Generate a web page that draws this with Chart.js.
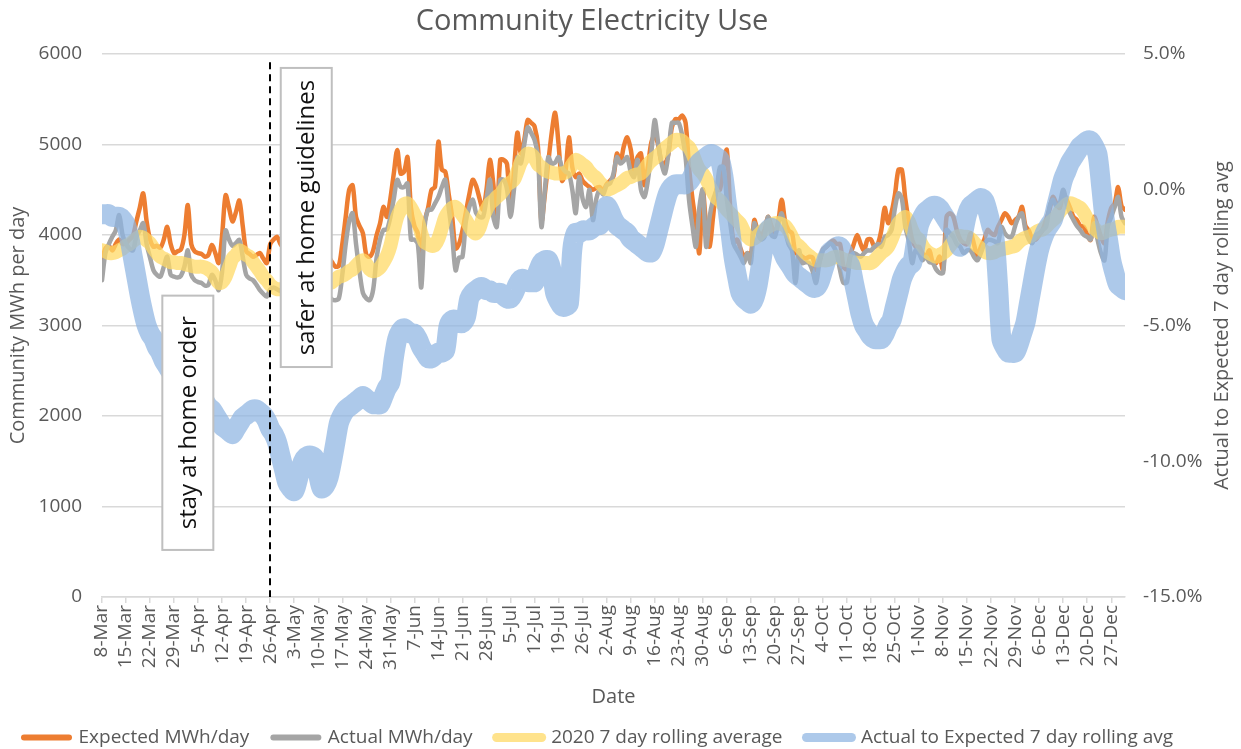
<!DOCTYPE html>
<html>
<head>
<meta charset="utf-8">
<title>Community Electricity Use</title>
<script src="https://cdn.jsdelivr.net/npm/chart.js@4.4.1/dist/chart.umd.min.js"></script>
<style>
  html, body { margin: 0; padding: 0; background: #fff; }
</style>
</head>
<body>
<canvas id="usage" width="1241" height="749"></canvas>
<script>
// Daily values, 8-Mar to 31-Dec (one value per day)

let expectedMWh = [
  3720, 3850, 3880, 3830, 3900, 3950, 3900,
  3910, 3950, 3990, 4150, 4300, 4460, 4150,
  3950, 3870, 3880, 3860, 3950, 4090, 3900,
  3800, 3820, 3840, 4000, 4330, 3900, 3820,
  3800, 3790, 3760, 3780, 3890, 3800, 3690,
  4000, 4440, 4300, 4150, 4250, 4380, 4100,
  3820, 3790, 3760, 3780, 3800, 3740, 3690,
  3900, 3950, 3980, 3900, 3850, 3800, 3780,
  3800, 3760, 3820, 3750, 3780, 3720, 3760,
  3740, 3700, 3780, 3760, 3700, 3650, 3660,
  3900, 4200, 4500, 4550, 4200, 4100, 4020,
  3780, 3760, 3830, 4000, 4130, 4310, 4200,
  4400, 4680, 4940, 4680, 4700, 4860, 4300,
  4100, 4020, 3760, 4150, 4300, 4500, 4530,
  5030, 4720, 4700, 4450, 4200, 3850, 3900,
  4050, 4250, 4450, 4610, 4540, 4400, 4280,
  4500, 4830, 4560, 4170, 4830, 4830, 4780,
  4240, 4700, 5130, 4900, 5050, 5270, 5240,
  5200, 4970, 4150, 4450, 4800, 5130, 5350,
  5000, 4600, 4700, 5080, 4750, 4640, 4680,
  4600, 4560, 4530, 4500, 4520, 4530, 4490,
  4560, 4600, 4650, 4900, 4800, 4980, 5080,
  4950, 4720, 4860, 4900, 4550, 4750, 5020,
  5100, 5000, 4800, 4790, 4900, 5190, 5280,
  5280, 5320, 5240, 4750, 4400, 4130, 3800,
  4500, 4100, 3870, 4200, 4500, 4500, 4750,
  4940, 4300, 3910, 3950, 3850, 3760, 3800,
  3760, 4165, 4050, 4000, 4055, 4200, 4100,
  4020, 4150, 4390, 4150, 4050, 4020, 3800,
  3790, 3760, 3740, 3760, 3750, 3610, 3700,
  3840, 3870, 3910, 3940, 3900, 3900, 3650,
  3620, 3780, 3900, 4000, 3900, 3830, 3950,
  3950, 3870, 3900, 4050, 4300, 4130, 4250,
  4450, 4720, 4720, 4400, 4150, 3950, 3870,
  3870, 3800, 3760, 3830, 3700, 3690, 3760,
  3610, 4200, 4240, 4200, 4050, 3950, 3910,
  3900, 4020, 3900, 3760, 3870, 3950, 4055,
  4020, 4000, 4090, 4165, 4240, 4200, 4130,
  4165, 4200, 4310, 4100, 4050, 3950, 3950,
  4000, 4055, 4165, 4280, 4420, 4350, 4300,
  4460, 4390, 4300, 4200, 4165, 4100, 4090,
  4000, 3945, 4200, 4100, 3980, 3910, 4150,
  4300, 4350, 4530, 4320, 4280
];

let actualMWh = [
  3500, 3800, 3900, 3980, 4050, 4220, 4000,
  3900, 3850, 3830, 3980, 4050, 4130, 3900,
  3750, 3610, 3560, 3540, 3650, 3760, 3560,
  3540, 3530, 3550, 3650, 3830, 3560, 3500,
  3480, 3470, 3440, 3450, 3560, 3500, 3390,
  3600, 4050, 3950, 3880, 3910, 3945, 3760,
  3560, 3520, 3500, 3450, 3390, 3350, 3320,
  3400, 3420, 3400, 3380, 3360, 3350, 3340,
  3360, 3320, 3380, 3300, 3350, 3280, 3330,
  3300, 3260, 3350, 3330, 3290, 3280, 3300,
  3560, 3900, 4150, 4240, 3900, 3600, 3360,
  3300, 3280, 3400, 3750, 3950, 4055, 4060,
  4200, 4400, 4610, 4530, 4530, 4570, 3950,
  3950, 3900, 3420, 4100, 4280, 4280, 4350,
  4420, 4530, 4610, 4300, 4000, 3610, 3750,
  3760, 4150, 4310, 4390, 4240, 4200, 4200,
  4400, 4610, 4200, 4090, 4610, 4610, 4500,
  4200, 4500, 4860, 4790, 5000, 5190, 5130,
  5050, 4860, 4090, 4500, 4860, 4790, 4800,
  4860, 4750, 4700, 4680, 4500, 4240, 4640,
  4400, 4310, 4500, 4165, 4400, 4500, 4450,
  4550, 4570, 4680, 4860, 4790, 4820, 4860,
  4700, 4640, 4830, 4500, 4420, 4600, 4900,
  5270, 5020, 4790, 4680, 4900, 5240, 5240,
  5240, 5100, 4860, 4390, 4100, 3870, 4300,
  4500, 3870, 4200, 4390, 4500, 4750, 4750,
  4400, 4130, 3900, 3830, 3760, 3690, 3800,
  3690, 4130, 4020, 3950, 3980, 4200, 4000,
  3980, 4130, 4240, 4055, 3900, 3830, 3470,
  3830, 3690, 3700, 3690, 3600, 3470, 3700,
  3830, 3870, 3910, 3880, 3800, 3610, 3470,
  3480, 3760, 3800, 3780, 3760, 3800, 3830,
  3830, 3870, 3900, 3870, 3980, 4000, 4055,
  4300, 4460, 4400, 4090, 3940, 3690, 3830,
  3800, 3720, 3760, 3700, 3690, 3620, 3580,
  3580, 4055, 4020, 3980, 3900, 3870, 3800,
  3830, 3830, 3760, 3720, 3800, 3900, 3945,
  3945, 3930, 3910, 4090, 4020, 3980, 3980,
  4100, 4200, 4240, 4055, 3950, 3910, 4000,
  4020, 4055, 4090, 4310, 4390, 4320, 4350,
  4500, 4350, 4240, 4165, 4100, 4055, 4000,
  3980, 3950, 4130, 3950, 3800, 3720, 4100,
  4200, 4310, 4420, 4200, 4130
];

let rollingAvg = [
  3830, 3820, 3800, 3800, 3810, 3830, 3850,
  3880, 3900, 3930, 3960, 3980, 3970, 3940,
  3910, 3850, 3800, 3760, 3740, 3720, 3700,
  3700, 3690, 3690, 3680, 3670, 3660, 3650,
  3650, 3650, 3640, 3620, 3590, 3530, 3470,
  3480, 3540, 3640, 3740, 3780, 3830, 3810,
  3780, 3760, 3700, 3650, 3600, 3540, 3500,
  3450, 3420, 3400, 3400, 3390, 3390, 3380,
  3380, 3370, 3370, 3360, 3360, 3350, 3350,
  3380, 3400, 3430, 3460, 3480, 3510, 3540,
  3550, 3570, 3600, 3620, 3660, 3700, 3720,
  3680, 3620, 3600, 3610, 3640, 3700, 3770,
  3880, 4050, 4200, 4280, 4340, 4350, 4300,
  4230, 4150, 4020, 3920, 3900, 3880, 3890,
  3960, 4080, 4200, 4260, 4300, 4310, 4270,
  4220, 4165, 4100, 4040, 4020, 4080, 4200,
  4280, 4350, 4380, 4420, 4450, 4500, 4560,
  4580, 4610, 4700, 4800, 4860, 4900, 4890,
  4850, 4780, 4750, 4720, 4700, 4690, 4680,
  4680, 4680, 4690, 4720, 4780, 4830, 4810,
  4780, 4750, 4700, 4660, 4630, 4580, 4540,
  4500, 4510, 4530, 4550, 4570, 4600, 4630,
  4640, 4660, 4670, 4680, 4720, 4780, 4820,
  4850, 4880, 4920, 4960, 4990, 5020, 5050,
  5050, 5040, 5000, 4970, 4900, 4800, 4720,
  4680, 4620, 4540, 4470, 4410, 4380, 4330,
  4280, 4240, 4200, 4160, 4120, 4040, 3980,
  3950, 3960, 3990, 4030, 4060, 4090, 4110,
  4130, 4130, 4120, 4100, 4050, 3980, 3910,
  3880, 3840, 3800, 3770, 3740, 3720, 3720,
  3720, 3720, 3730, 3750, 3760, 3750, 3730,
  3720, 3710, 3700, 3690, 3690, 3690, 3690,
  3690, 3720, 3760, 3800, 3830, 3870, 3950,
  4050, 4130, 4170, 4200, 4150, 4050, 3980,
  3950, 3880, 3830, 3800, 3780, 3760, 3780,
  3800, 3830, 3880, 3930, 3980, 3990, 3980,
  3980, 3960, 3920, 3880, 3850, 3820, 3800,
  3800, 3810, 3830, 3840, 3850, 3860, 3870,
  3880, 3920, 3950, 3970, 3980, 4000, 4030,
  4050, 4060, 4090, 4130, 4165, 4200, 4260,
  4300, 4340, 4350, 4340, 4320, 4300, 4250,
  4180, 4130, 4080, 4040, 4020, 4030, 4050,
  4060, 4070, 4090, 4090, 4090
];

// percent, right axis
let actualToExpected = [
  -0.9, -0.9, -0.9, -1.0, -1.0, -1.0, -1.1,
  -1.3, -1.8, -2.5, -3.2, -3.9, -4.5, -5.0,
  -5.3, -5.5, -5.8, -6.0, -6.3, -6.5, -6.7,
  -6.8, -6.9, -7.0, -7.1, -7.1, -7.2, -7.3,
  -7.4, -7.6, -7.8, -8.0, -8.1, -8.3, -8.5,
  -8.7, -8.8, -8.9, -9.0, -8.8, -8.6, -8.4,
  -8.3, -8.2, -8.1, -8.1, -8.2, -8.3, -8.5,
  -8.8, -9.0, -9.3, -9.8, -10.3, -10.8, -11.0,
  -11.1, -10.7, -10.2, -9.9, -9.8, -9.8, -9.9,
  -10.5, -11.0, -10.9, -10.6, -10.0, -9.3, -8.6,
  -8.3, -8.1, -8.0, -7.9, -7.8, -7.7, -7.6,
  -7.7, -7.8, -7.9, -7.9, -7.9, -7.6, -7.3,
  -7.1, -6.2, -5.5, -5.2, -5.1, -5.2, -5.3,
  -5.3, -5.5, -5.8, -6.0, -6.2, -6.2, -6.1,
  -6.0, -6.0, -5.9, -5.0, -4.8, -4.8, -4.9,
  -4.9, -4.7, -4.0, -3.8, -3.7, -3.6, -3.6,
  -3.7, -3.7, -3.8, -3.8, -3.8, -3.9, -4.0,
  -4.0, -3.8, -3.5, -3.3, -3.3, -3.4, -3.4,
  -3.4, -3.0, -2.7, -2.6, -2.6, -3.0, -3.8,
  -4.1, -4.3, -4.3, -4.2, -2.2, -1.6, -1.6,
  -1.5, -1.5, -1.5, -1.4, -1.3, -1.3, -1.0,
  -0.6, -0.8, -1.1, -1.3, -1.4, -1.5, -1.6,
  -1.8, -1.9, -2.0, -2.1, -2.2, -2.3, -2.3,
  -2.0, -1.5, -1.0, -0.5, -0.1, 0.1, 0.2,
  0.2, 0.2, 0.2, 0.3, 0.5, 0.8, 1.0,
  1.1, 1.2, 1.3, 1.3, 1.2, 1.1, 0.5,
  -0.5, -1.5, -2.5, -3.2, -3.8, -4.0, -4.1,
  -4.2, -4.0, -3.5, -2.7, -1.9, -1.5, -1.4,
  -1.6, -1.9, -2.2, -2.5, -2.7, -2.9, -3.1,
  -3.2, -3.3, -3.4, -3.5, -3.6, -3.6, -3.4,
  -3.0, -2.6, -2.3, -2.2, -2.1, -2.1, -2.3,
  -2.6, -2.8, -3.4, -4.0, -4.6, -5.0, -5.2,
  -5.4, -5.5, -5.5, -5.5, -5.3, -5.0, -4.8,
  -4.3, -3.8, -3.3, -3.0, -2.8, -2.7, -2.0,
  -1.3, -1.0, -0.8, -0.7, -0.6, -0.6, -0.7,
  -0.9, -1.1, -1.3, -1.4, -1.8, -2.1, -1.5,
  -0.9, -0.6, -0.5, -0.4, -0.3, -0.4, -0.8,
  -1.3, -1.8, -3.5, -5.5, -5.8, -6.0, -6.0,
  -6.0, -5.7, -5.3, -4.9, -4.2, -3.5, -2.8,
  -2.2, -1.8, -1.5, -1.3, -1.1, -0.6, -0.1,
  0.4, 0.7, 1.0, 1.2, 1.4, 1.6, 1.7,
  1.8, 1.8, 1.6, 1.3, 0.2, -1.0, -1.8,
  -2.6, -3.1, -3.5, -3.6, -3.7
];

// one tick label per week (every 7th day)
let weekLabels = Array.of(
  "8-Mar", "15-Mar", "22-Mar", "29-Mar", "5-Apr", "12-Apr", "19-Apr", "26-Apr",
  "3-May", "10-May", "17-May", "24-May", "31-May", "7-Jun", "14-Jun", "21-Jun",
  "28-Jun", "5-Jul", "12-Jul", "19-Jul", "26-Jul", "2-Aug", "9-Aug", "16-Aug",
  "23-Aug", "30-Aug", "6-Sep", "13-Sep", "20-Sep", "27-Sep", "4-Oct", "11-Oct",
  "18-Oct", "25-Oct", "1-Nov", "8-Nov", "15-Nov", "22-Nov", "29-Nov", "6-Dec",
  "13-Dec", "20-Dec", "27-Dec"
);

let dayIndex = expectedMWh.map((v, i) => i);

// 26-Apr is day 49
let orderDay = 49;
let notes = [
  { text: "stay at home order", day: 25, top: 3330, bottom: 520 },
  { text: "safer at home guidelines", day: 59.5, top: 5846, bottom: 2541 }
];

let legendLineWidths = Array.of(6, 6, 9, 9);

Chart.defaults.font.family = "'Open Sans', 'Noto Sans', sans-serif";
Chart.defaults.color = "#595959";

let notesPlugin = {
  id: "notes",
  afterDatasetsDraw(chart) {
    let { ctx, chartArea, scales } = chart;
    let x = scales.x, y = scales.y;
    ctx.save();

    // dashed line on 26-Apr
    let lx = Math.round(x.getPixelForValue(orderDay));
    ctx.strokeStyle = "#000";
    ctx.lineWidth = 2;
    ctx.setLineDash([7, 5]);
    ctx.beginPath();
    ctx.moveTo(lx, y.getPixelForValue(5910));
    ctx.lineTo(lx, chartArea.bottom);
    ctx.stroke();
    ctx.setLineDash([]);

    // text boxes
    notes.forEach(n => {
      let cx = x.getPixelForValue(n.day);
      let top = y.getPixelForValue(n.top);
      let bottom = y.getPixelForValue(n.bottom);
      let w = 51;
      ctx.fillStyle = "#fff";
      ctx.strokeStyle = "#bfbfbf";
      ctx.lineWidth = 2;
      ctx.fillRect(cx - w / 2, top, w, bottom - top);
      ctx.strokeRect(cx - w / 2, top, w, bottom - top);
      ctx.translate(cx, (top + bottom) / 2);
      ctx.rotate(-Math.PI / 2);
      ctx.fillStyle = "#111";
      ctx.font = "24px 'Open Sans', sans-serif";
      ctx.textAlign = "center";
      ctx.textBaseline = "middle";
      ctx.fillText(n.text, 0, 1);
      ctx.setTransform(1, 0, 0, 1, 0, 0);
    });
    ctx.restore();
  },
  afterDraw(chart) {
    let { ctx, chartArea } = chart;
    ctx.save();
    // chart title
    ctx.fillStyle = "#595959";
    ctx.font = "29px 'Open Sans', sans-serif";
    ctx.textAlign = "center";
    ctx.textBaseline = "middle";
    ctx.fillText("Community Electricity Use", 592, 22);
    // right axis title reads bottom to top
    ctx.translate(1222, (chartArea.top + chartArea.bottom) / 2);
    ctx.rotate(-Math.PI / 2);
    ctx.font = "20px 'Open Sans', sans-serif";
    ctx.fillText("Actual to Expected 7 day rolling avg", 0, 0);
    ctx.restore();
  }
};

let ctx = document.getElementById("usage").getContext("2d");

let usageChart = new Chart(ctx, {
  type: "line",
  data: {
    labels: dayIndex,
    datasets: [
      {
        label: "Expected MWh/day",
        data: expectedMWh,
        yAxisID: "y",
        borderColor: "#ED7D31",
        backgroundColor: "#ED7D31",
        borderWidth: 4.5,
        order: 4
      },
      {
        label: "Actual MWh/day",
        data: actualMWh,
        yAxisID: "y",
        borderColor: "#A5A5A5",
        backgroundColor: "#A5A5A5",
        borderWidth: 4.5,
        order: 3
      },
      {
        label: "2020 7 day rolling average",
        data: rollingAvg,
        yAxisID: "y",
        borderColor: "rgba(255, 217, 102, 0.75)",
        backgroundColor: "rgba(255, 217, 102, 0.75)",
        borderWidth: 14,
        order: 2
      },
      {
        label: "Actual to Expected 7 day rolling avg",
        data: actualToExpected,
        yAxisID: "y1",
        borderColor: "rgba(141, 180, 226, 0.72)",
        backgroundColor: "rgba(141, 180, 226, 0.72)",
        borderWidth: 20,
        order: 1
      }
    ]
  },
  options: {
    responsive: false,
    animation: false,
    layout: { padding: { top: 54, left: 0, right: 0, bottom: -8 } },
    elements: {
      point: { radius: 0, hoverRadius: 0 },
      line: { tension: 0.3, borderJoinStyle: "round", borderCapStyle: "round", fill: false }
    },
    plugins: {
      title: { display: false },
      legend: {
        position: "bottom",
        align: "start",
        labels: {
          usePointStyle: true,
          pointStyle: "line",
          pointStyleWidth: 45,
          padding: 24,
          color: "#595959",
          font: { size: 19 },
          sort: (a, b) => a.datasetIndex - b.datasetIndex,
          generateLabels(chart) {
            let items = Chart.defaults.plugins.legend.labels.generateLabels(chart);
            items.forEach(it => {
              it.lineWidth = legendLineWidths[it.datasetIndex];
              it.lineCap = "round";
            });
            return items;
          }
        }
      },
      tooltip: { enabled: false }
    },
    scales: {
      x: {
        type: "linear",
        min: 0,
        max: expectedMWh.length - 1,
        grid: { drawOnChartArea: false, drawTicks: true, tickLength: 6, color: "#d9d9d9", lineWidth: 1.5 },
        border: { display: true, color: "#d9d9d9", width: 1.5 },
        ticks: {
          stepSize: 7,
          autoSkip: false,
          includeBounds: false,
          minRotation: 90,
          maxRotation: 90,
          padding: 2,
          font: { size: 19 },
          callback: v => (v % 7 === 0 ? weekLabels[v / 7] : null)
        },
        title: { display: true, text: "Date", font: { size: 20 }, padding: { top: 0, bottom: -5 } },
        afterFit: s => { s.height = 107; }
      },
      y: {
        position: "left",
        min: 0,
        max: 6000,
        ticks: { stepSize: 1000, padding: 20, font: { size: 19 }, callback: v => String(v) },
        grid: { color: "#d9d9d9", lineWidth: 1.5, drawTicks: false },
        border: { display: false },
        title: { display: true, text: "Community MWh per day", font: { size: 20 }, padding: { top: 6 } },
        afterFit: s => { s.width = 102; }
      },
      y1: {
        position: "right",
        min: -15,
        max: 5,
        ticks: { stepSize: 5, padding: 18, font: { size: 19 }, callback: v => v.toFixed(1) + "%" },
        grid: { display: false, drawTicks: false },
        border: { display: false },
        afterFit: s => { s.width = 116; }
      }
    }
  },
  plugins: [notesPlugin]
});
</script>
</body>
</html>
